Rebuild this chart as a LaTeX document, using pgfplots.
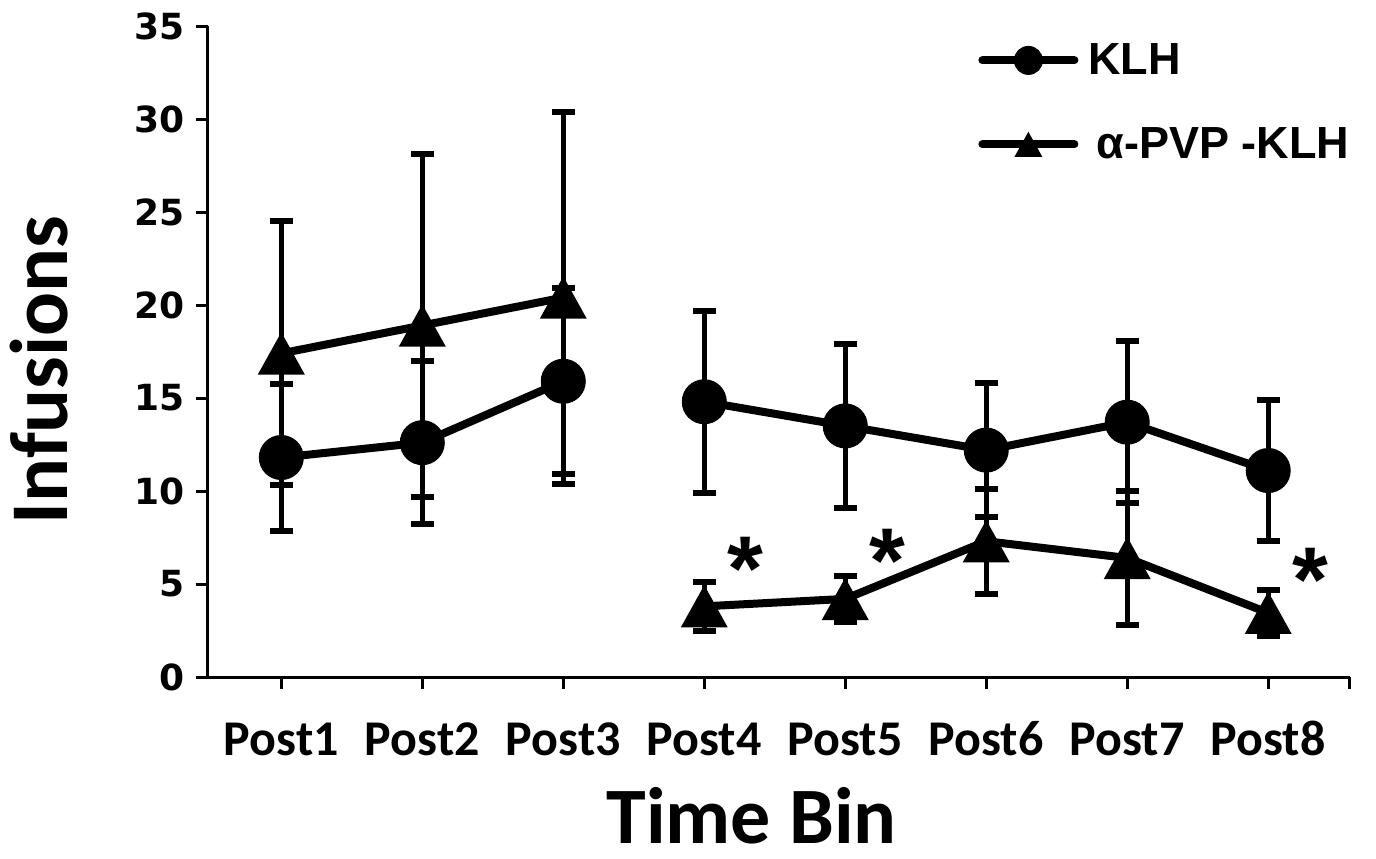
\documentclass[border=0pt]{standalone}
\usepackage{fontspec}
\setmainfont{Carlito}
\newfontfamily\arialfont{Liberation Sans}
\newfontfamily\dejavu{DejaVu Sans}
\usepackage{pgfplots}
\pgfplotsset{compat=1.18}

\pgfdeclareplotmark{ctri*}{%
  \pgfpathmoveto{\pgfpoint{0pt}{0.9\pgfplotmarksize}}%
  \pgfpathlineto{\pgfpoint{-\pgfplotmarksize}{-0.9\pgfplotmarksize}}%
  \pgfpathlineto{\pgfpoint{\pgfplotmarksize}{-0.9\pgfplotmarksize}}%
  \pgfpathclose
  \pgfusepathqfill
}

\pgfplotstableread{
x y e
1 11.8 3.95
2 12.6 4.4
3 15.9 5.0
}\klhA
\pgfplotstableread{
x y e
4 14.8 4.9
5 13.5 4.4
6 12.2 3.6
7 13.7 4.35
8 11.1 3.77
}\klhB
\pgfplotstableread{
x y e
1 17.4 7.1
2 18.9 9.2
3 20.4 10.0
}\pvpA
\pgfplotstableread{
x y e
4 3.8 1.32
5 4.2 1.22
6 7.3 2.82
7 6.4 3.6
8 3.45 1.25
}\pvpB

\begin{document}
\begin{tikzpicture}
\begin{axis}[
  scale only axis, width=571pt, height=325.5pt,
  xmin=0.48, xmax=8.58, ymin=0, ymax=35,
  axis x line=bottom, axis y line=left,
  axis line style={-, line width=1.5pt, black},
  xtick={1,2,3,4,5,6,7,8},
  xticklabels={Post1,Post2,Post3,Post4,Post5,Post6,Post7,Post8},
  extra x ticks={8.58}, extra x tick labels={},
  ytick={0,5,10,15,20,25,30,35},
  tick align=outside, major tick length=6pt,
  tick style={line width=1.5pt, black},
  /pgf/number format/assume math mode=true,
  xticklabel style={font=\bfseries\fontsize{25pt}{25pt}\selectfont, anchor=base, yshift=-33pt},
  yticklabel style={font=\dejavu\bfseries\fontsize{18pt}{18pt}\selectfont, anchor=east, inner sep=0pt, xshift=-5.5pt},
  xlabel={Time Bin},
  xlabel style={font=\bfseries\fontsize{40pt}{40pt}\selectfont, at={(axis description cs:0.476,-0.256)}, anchor=base, inner sep=0pt},
  ylabel={Infusions},
  ylabel style={font=\bfseries\fontsize{41pt}{41pt}\selectfont, at={(axis description cs:-0.1226,0.4716)}, rotate=0, anchor=base, inner sep=0pt},
  legend style={draw=none, fill=none, at={(axis description cs:0.669,0.98)}, anchor=north west,
    font=\arialfont\bfseries\fontsize{22.5pt}{22.5pt}\selectfont, row sep=25pt, column sep=5pt,
    nodes={inner sep=0pt}},
  legend cell align=left,
  legend image code/.code={\draw[line width=4pt, line cap=round, mark repeat=2, mark phase=2] plot coordinates {(2pt,0pt) (25pt,0pt) (48pt,0pt)};},
  error bars/y dir=both, error bars/y explicit,
  error bars/error bar style={line width=2.5pt, black},
  error bars/error mark options={rotate=90, mark size=5.75pt, line width=3pt, black},
]
\addplot[black, line width=4pt, mark=*, mark size=11pt, mark options={line width=0.5pt, fill=black}, legend image post style={mark size=7pt}]
  table[x=x, y=y, y error=e] {\klhA};
\addlegendentry{KLH}
\addplot[black, line width=4pt, mark=*, mark size=11pt, mark options={line width=0.5pt, fill=black}, forget plot]
  table[x=x, y=y, y error=e] {\klhB};
\addplot[black, line width=4pt, mark=ctri*, mark size=11.75pt, legend image post style={mark size=7pt}]
  table[x=x, y=y, y error=e] {\pvpA};
\addlegendentry{\hspace{4pt}α-PVP -KLH}
\addplot[black, line width=4pt, mark=ctri*, mark size=11.75pt, forget plot]
  table[x=x, y=y, y error=e] {\pvpB};
\node[font=\arialfont\bfseries\fontsize{46pt}{46pt}\selectfont, anchor=center, yshift=-7pt] at (axis cs:4.29,6.56) {*};
\node[font=\arialfont\bfseries\fontsize{46pt}{46pt}\selectfont, anchor=center, yshift=-7pt] at (axis cs:5.30,7.0) {*};
\node[font=\arialfont\bfseries\fontsize{46pt}{46pt}\selectfont, anchor=center, yshift=-7pt] at (axis cs:8.30,6.0) {*};
\end{axis}
\pgfresetboundingbox
\path (-104pt,-90.5pt) rectangle (584pt,338.5pt);
\end{tikzpicture}
\end{document}
